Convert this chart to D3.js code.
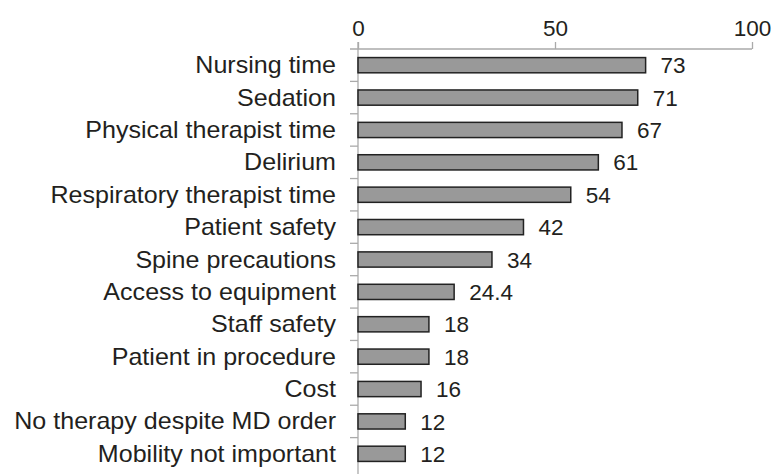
<!DOCTYPE html>
<html><head><meta charset="utf-8">
<script src="https://cdn.jsdelivr.net/npm/d3@7"></script>
<style>body{margin:0;background:#fff}svg{display:block}</style>
</head><body>
<svg id="c" width="774" height="474"></svg>
<script>
const categories = ["Nursing time","Sedation","Physical therapist time","Delirium","Respiratory therapist time","Patient safety","Spine precautions","Access to equipment","Staff safety","Patient in procedure","Cost","No therapy despite MD order","Mobility not important"];
const values = [73,71,67,61,54,42,34,24.4,18,18,16,12,12];
const valueLabels = ["73","71","67","61","54","42","34","24.4","18","18","16","12","12"];
const tickValues = [0,50,100];

const svg = d3.select("#c");
const font = "'Liberation Sans', Arial, sans-serif";
const ink = "#231f20";
const x = d3.scaleLinear().domain([0,100]).range([358,752]);
const y = d3.scaleBand().domain(categories).range([49,470]).paddingInner(0.53).paddingOuter(0.265);
const yb = d3.scaleBand().domain(categories).range([49,470]);

// top axis
const ax = svg.append("g").attr("transform","translate(0,49)")
  .call(d3.axisTop(x).tickValues(tickValues).tickSize(7).tickPadding(6));
ax.select(".domain").remove();
ax.append("line").attr("x1",350).attr("x2",752).attr("stroke","#aaa").attr("stroke-width",1.3);
ax.selectAll(".tick line").attr("stroke","#aaa").attr("stroke-width",1.3);
ax.selectAll(".tick text").attr("fill",ink).style("font-family",font).style("font-size","22.5px");

// left axis line and ticks at band boundaries
svg.append("line").attr("x1",358).attr("x2",358).attr("y1",42).attr("y2",474).attr("stroke","#aaa").attr("stroke-width",1.3);
svg.append("g").selectAll("line").data(categories.slice(1)).join("line")
  .attr("x1",350).attr("x2",358)
  .attr("y1",d=>yb(d)).attr("y2",d=>yb(d))
  .attr("stroke","#aaa").attr("stroke-width",1.3);

// bars
svg.append("g").selectAll("rect").data(categories).join("rect")
  .attr("x",x(0)).attr("y",d=>y(d))
  .attr("width",(d,i)=>x(values[i])-x(0)).attr("height",y.bandwidth())
  .attr("fill","#999").attr("stroke","#222").attr("stroke-width",1.5);

// category labels
svg.append("g").selectAll("text").data(categories).join("text")
  .attr("transform",d=>`translate(336,${y(d)+y.bandwidth()/2}) scale(1.09,1)`)
  .attr("dy","0.35em")
  .attr("text-anchor","end").attr("fill",ink)
  .style("font-family",font).style("font-size","23px").text(d=>d);

// value labels
svg.append("g").selectAll("text").data(categories).join("text")
  .attr("x",(d,i)=>x(values[i])+15).attr("y",d=>y(d)+y.bandwidth()/2).attr("dy","0.36em")
  .attr("fill",ink)
  .style("font-family",font).style("font-size","22.5px").text((d,i)=>valueLabels[i]);
</script>
</body></html>
